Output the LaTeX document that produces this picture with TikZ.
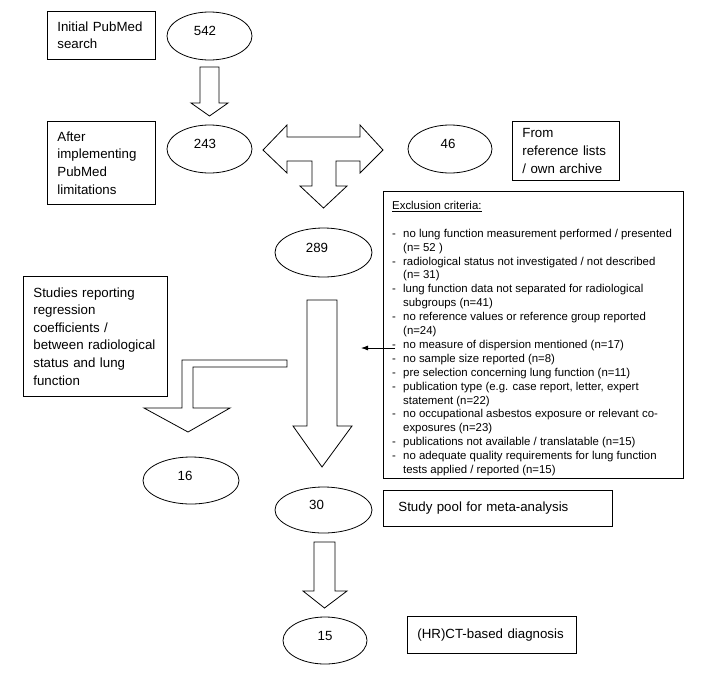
\documentclass[tikz,border=0pt]{standalone}
\usepackage{fontspec}
\setmainfont{Liberation Sans}
\usetikzlibrary{shapes.geometric,arrows.meta,calc}
\newcommand{\mainfs}{\fontsize{13.3}{17.6}\selectfont}
\newcommand{\exclfs}{\fontsize{11.4}{13.9}\selectfont}
\newcommand{\exitem}[1]{\makebox[11pt][l]{-}#1}
\newcommand{\excont}[1]{\hspace*{11pt}#1}
\tikzset{
numell/.style={draw,ellipse,line width=.8pt,inner sep=0pt,font=\mainfs,text height=9.6pt,text depth=10pt},
numleft/.style={execute at end node={\hspace{#1}}},
txtbox/.style={draw,rectangle,line width=.8pt,anchor=north west,align=left,inner ysep=0pt,inner xsep=10pt,font=\mainfs},
blockarrow/.style={draw,line width=.8pt,line join=miter,fill=white}
}

\begin{document}
\begin{tikzpicture}[x=1pt,y=-1pt]
\useasboundingbox (0,0) rectangle (720,675);
\node[numell,numleft=9pt,minimum width=85pt,minimum height=48pt] (n542) at (209.5,36) {542};
\node[numell,numleft=9pt,minimum width=85pt,minimum height=48pt] (n243) at (209.5,149) {243};
\node[numell,numleft=4pt,minimum width=84pt,minimum height=48pt] (n46) at (450,149) {46};
\node[numell,numleft=13pt,minimum width=97pt,minimum height=49pt] (n289) at (323.5,252.5) {289};
\node[numell,numleft=12pt,minimum width=96pt,minimum height=47pt] (n16) at (191,480.5) {16};
\node[numell,numleft=14pt,minimum width=97pt,minimum height=46pt] (n30) at (323.5,510) {30};
\node[numell,minimum width=84pt,minimum height=47pt] (n15) at (325,640.5) {15};
\node[txtbox,minimum width=108pt,minimum height=48pt,text width=88pt] (init) at (47,11) {Initial PubMed\\search};
\node[txtbox,minimum width=108pt,minimum height=83pt,text width=88pt] (after) at (47,121) {After\\implementing\\PubMed\\limitations};
\node[txtbox,minimum width=107pt,minimum height=59pt,text width=87pt] (from) at (512,121) {From\\reference lists\\/ own archive};
\node[txtbox,minimum width=144pt,minimum height=120pt,text width=124pt] (studies) at (23,276) {Studies reporting\\regression\\coefficients /\\between radiological\\status and lung\\function};
\node[txtbox,inner xsep=15pt,minimum width=229pt,minimum height=36pt,text width=199pt] (pool) at (383,490) {Study pool for meta-analysis};
\node[txtbox,minimum width=169pt,minimum height=37pt,text width=149pt] (hrct) at (407,616) {(HR)CT-based diagnosis};
\node[draw,line width=.8pt,anchor=north west,minimum width=300pt,minimum height=287pt,inner sep=0pt] (excl) at (383,191) {};
\node[anchor=north west,inner sep=0pt,align=left,font=\exclfs] (excltext) at ($(excl.north west)+(9,10)$) {\underline{Exclusion criteria:}\\ \\
\exitem{no lung function measurement performed / presented}\\
\excont{(n= 52 )}\\
\exitem{radiological status not investigated / not described}\\
\excont{(n= 31)}\\
\exitem{lung function data not separated for radiological}\\
\excont{subgroups (n=41)}\\
\exitem{no reference values or reference group reported}\\
\excont{(n=24)}\\
\exitem{no measure of dispersion mentioned (n=17)}\\
\exitem{no sample size reported (n=8)}\\
\exitem{pre selection concerning lung function (n=11)}\\
\exitem{publication type (e.g. case report, letter, expert}\\
\excont{statement (n=22)}\\
\exitem{no occupational asbestos exposure or relevant co-}\\
\excont{exposures (n=23)}\\
\exitem{publications not available / translatable (n=15)}\\
\exitem{no adequate quality requirements for lung function}\\
\excont{tests applied / reported (n=15)}};
\draw[blockarrow] (200,67) -- (219,67) -- (219,103) -- (228,103) -- (209.5,116) -- (191,103) -- (200,103) -- cycle;
\draw[blockarrow] (263,150) -- (287,125) -- (287,137) -- (360,137) -- (360,125) -- (383,150) -- (360,173) -- (360,161) -- (336,161) -- (336,186) -- (347,186) -- (323.5,208) -- (300,186) -- (312,186) -- (312,161) -- (287,161) -- (287,173) -- cycle;
\draw[blockarrow] (307,300) -- (337,300) -- (337,426) -- (352,426) -- (322,467) -- (293,426) -- (307,426) -- cycle;
\draw[blockarrow] (287,360) -- (182,360) -- (182,408) -- (144,408) -- (188,432) -- (230,408) -- (193,408) -- (193,367) -- (287,367) -- cycle;
\draw[blockarrow] (314,542) -- (335,542) -- (335,591) -- (347,591) -- (324.5,608) -- (303,591) -- (314,591) -- cycle;
\coordinate (ptr) at (361,348);
\draw[line width=.8pt,-{Latex[length=7pt,width=5pt]}] ($(excl.west |- ptr)+(12,0)$) -- (ptr);
\end{tikzpicture}
\end{document}
